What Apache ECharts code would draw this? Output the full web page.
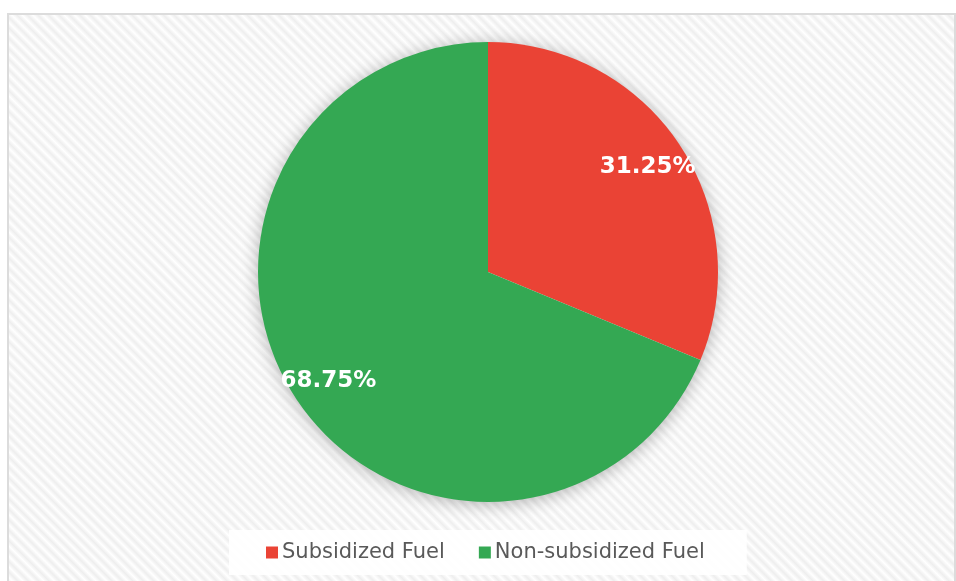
<!DOCTYPE html>
<html>
<head>
<meta charset="utf-8">
<script src="https://cdn.jsdelivr.net/npm/echarts@6/dist/echarts.min.js"></script>
<style>
  html, body { margin: 0; padding: 0; background: #fff; overflow: hidden; }
  #frame {
    position: absolute; left: 7px; top: 13px; width: 945px; height: 620px;
    border: 2px solid #dcdcdc;
    background: repeating-linear-gradient(45deg, #eeeeee 0px, #f7f7f7 2px, #ffffff 3.7px, #f7f7f7 5.4px, #eeeeee 7.4px);
  }
  #chart { position: absolute; left: 0; top: 0; width: 956px; height: 581px; }
</style>
</head>
<body>
<div id="frame"></div>
<div id="chart"></div>
<script>
const categories = ['Subsidized Fuel', 'Non-subsidized Fuel'];
const values = [31.25, 68.75];
const colors = ['#EA4335', '#34A853'];

const total = values.reduce((a, b) => a + b, 0);
const data = categories.map((name, i) => ({ name: name, value: values[i], itemStyle: { color: colors[i] } }));
const ghostData = categories.map((name, i) => ({ name: name, value: values[i], itemStyle: { color: 'rgba(0,0,0,0)' } }));

const chart = echarts.init(document.getElementById('chart'), null, { renderer: 'canvas' });
chart.setOption({
  backgroundColor: 'transparent',
  animation: false,
  legend: {
    data: categories.map((name, i) => ({ name: name, itemStyle: { color: colors[i] } })),
    left: 229,
    top: 530,
    padding: [12, 42, 12, 37],
    backgroundColor: 'rgba(255,255,255,0.9)',
    itemGap: 34,
    itemWidth: 12,
    itemHeight: 12,
    icon: 'rect',
    textStyle: { fontFamily: 'DejaVu Sans', fontSize: 21, color: '#595959', padding: [0, 0, 0, -1] }
  },
  series: [
    {
      type: 'pie',
      z: 1,
      center: [488, 272],
      radius: [0, 229],
      silent: true,
      label: { show: false },
      labelLine: { show: false },
      itemStyle: { color: '#ffffff', shadowBlur: 18, shadowColor: 'rgba(0,0,0,0.32)', shadowOffsetY: 2 },
      data: [{ name: '', value: total }]
    },
    {
      type: 'pie',
      z: 2,
      center: [488, 272],
      radius: [0, 230],
      startAngle: 90,
      clockwise: true,
      silent: true,
      label: { show: false },
      labelLine: { show: false },
      data: data
    },
    {
      type: 'pie',
      z: 3,
      center: [488, 274],
      radius: [146, 232],
      startAngle: 90,
      clockwise: true,
      silent: true,
      label: {
        show: true,
        position: 'inside',
        formatter: p => p.value.toFixed(2) + '%',
        fontFamily: 'DejaVu Sans',
        fontWeight: 'bold',
        fontSize: 23,
        color: '#ffffff'
      },
      labelLine: { show: false },
      data: ghostData
    }
  ]
});
</script>
</body>
</html>
